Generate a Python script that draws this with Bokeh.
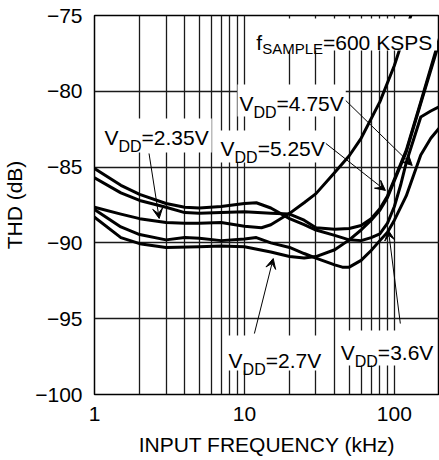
from bokeh.plotting import figure
from bokeh.models import (Range1d, FixedTicker, NumeralTickFormatter, Label,
                          Arrow, VeeHead, BoxAnnotation)
from bokeh.embed import file_html
from bokeh.resources import INLINE

# ---------------- data ----------------
x_ticks = [1, 10, 100]
x_tick_labels = ["1", "10", "100"]
y_ticks = [-100, -95, -90, -85, -80, -75]
x_grid = [2, 3, 4, 5, 6, 7, 8, 9, 10, 20, 30, 40, 50, 60, 70, 80, 90, 100, 200]
y_grid = [-95, -90, -85, -80]

# VDD = 2.35 V
freq_235 = [1, 1.5, 2, 3, 4, 5, 7, 10, 13, 15, 20, 25, 30, 40, 50, 60, 80, 100, 120, 130, 140]
thd_235 = [-87.65, -88.1, -88.4, -88.65, -88.7, -88.7, -88.65, -88.9, -89.0, -88.8, -88.05,
           -87.35, -86.75, -85.35, -84.25, -83.1, -80.7, -78.3, -75.9, -74.9, -73.8]

# VDD = 4.75 V
freq_475 = [1, 1.5, 2, 3, 4, 5, 7, 10, 12, 15, 20, 25, 30, 40, 50, 60, 70, 80, 90, 100,
            110, 120, 150, 175, 200]
thd_475 = [-85.1, -86.2, -86.8, -87.4, -87.65, -87.7, -87.6, -87.4, -87.35, -87.7, -88.4,
           -88.8, -89.15, -89.5, -89.8, -89.85, -89.65, -89.4, -88.7, -87.6,
           -86.2, -84.7, -81.7, -81.3, -81.0]

# VDD = 5.25 V
freq_525 = [1, 1.5, 2, 3, 4, 5, 7, 10, 15, 20, 25, 30, 40, 50, 60, 70, 80, 90, 100, 120,
            150, 200]
thd_525 = [-85.7, -86.7, -87.2, -87.65, -88.0, -88.05, -88.0, -87.95, -88.05, -88.1, -88.5,
           -89.0, -89.1, -89.05, -88.85, -88.4, -87.75, -86.9, -85.8, -83.9, -80.7, -76.5]

# VDD = 3.6 V
freq_36 = [1, 1.5, 2, 3, 4, 5, 7, 10, 12, 15, 20, 25, 30, 40, 45, 50, 60, 70, 80, 90, 100,
           120, 150, 175, 200]
thd_36 = [-87.8, -88.95, -89.45, -89.8, -89.65, -89.7, -89.85, -89.75, -89.65, -90.0, -90.3,
          -90.7, -91.0, -91.45, -91.6, -91.6, -91.15, -90.5, -89.85, -89.3, -88.5,
          -86.9, -84.2, -83.1, -82.4]

# VDD = 2.7 V
freq_27 = [1, 1.5, 2, 3, 5, 7, 10, 15, 20, 25, 30, 40, 50, 60, 70, 80, 90, 100, 120, 150, 200]
thd_27 = [-88.3, -89.65, -90.05, -90.3, -90.25, -90.2, -90.25, -90.6, -90.9, -91.0, -90.9,
          -90.45, -89.8, -89.15, -88.5, -87.85, -87.0, -85.9, -84.0, -80.8, -76.7]

curves = [(freq_235, thd_235), (freq_475, thd_475), (freq_525, thd_525),
          (freq_36, thd_36), (freq_27, thd_27)]

# annotations: (text parts, anchor x, anchor y, box (l, r, b, t), arrow (xs, ys, xe, ye))
annotations = [
    ([("f", 0), ("SAMPLE", 1), ("=600 KSPS", 0)], 12.0, -76.78,
     (11.47, 192.7, -77.31, -75.2), None),
    ([("V", 0), ("DD", 1), ("=2.35V", 0)], 1.165, -83.05,
     (1.13, 6.05, -84.04, -81.79), (2.31, -84.10, 2.70, -88.39)),
    ([("V", 0), ("DD", 1), ("=4.75V", 0)], 9.27, -80.80,
     (8.99, 47.4, -81.66, -79.55), (47.4, -80.61, 131.6, -84.89)),
    ([("V", 0), ("DD", 1), ("=5.25V", 0)], 6.93, -83.77,
     (6.63, 36.6, -84.70, -82.59), (34.9, -83.44, 87.2, -86.54)),
    ([("V", 0), ("DD", 1), ("=2.7V", 0)], 7.84, -97.76,
     (7.48, 32.3, -98.42, -96.11), (11.65, -95.98, 15.56, -91.03)),
    ([("V", 0), ("DD", 1), ("=3.6V", 0)], 43.9, -97.23,
     (41.9, 186.8, -98.09, -95.78), (109.6, -95.32, 91.3, -89.18)),
]

# ---------------- figure ----------------
FONT = "Liberation Sans"
MAIN = 21
p = figure(width=439, height=460, x_axis_type="log",
           x_range=Range1d(1, 200), y_range=Range1d(-100, -75),
           output_backend="svg", toolbar_location=None,
           min_border_left=93, min_border_right=0, min_border_top=15, min_border_bottom=66)
p.background_fill_color = "white"
p.border_fill_color = "white"
p.outline_line_color = "black"
p.outline_line_width = 1.5

for fr, th in curves:
    p.line(fr, th, line_color="black", line_width=3, line_join="round", line_cap="round")

p.xgrid.ticker = FixedTicker(ticks=x_grid)
p.ygrid.ticker = FixedTicker(ticks=y_grid)
for g in (p.xgrid, p.ygrid):
    g.grid_line_color = "#1a1a1a"
    g.grid_line_width = 1.3

p.xaxis.ticker = FixedTicker(ticks=x_ticks)
p.xaxis.formatter = NumeralTickFormatter(format="0")
p.xaxis.major_label_overrides = {t: s for t, s in zip(x_ticks, x_tick_labels)}
p.yaxis.ticker = FixedTicker(ticks=y_ticks)
p.xaxis.axis_label = "INPUT FREQUENCY (kHz)"
p.yaxis.axis_label = "THD (dB)"
for ax in (p.xaxis, p.yaxis):
    ax.axis_line_color = None
    ax.major_tick_line_color = None
    ax.minor_tick_line_color = None
    ax.major_tick_out = 0
    ax.major_tick_in = 0
    ax.major_label_text_font = FONT
    ax.major_label_text_font_size = f"{MAIN}px"
    ax.major_label_text_color = "black"
    ax.axis_label_text_font = FONT
    ax.axis_label_text_font_size = f"{MAIN}px"
    ax.axis_label_text_font_style = "normal"
    ax.axis_label_text_color = "black"
p.xaxis.major_label_standoff = 12
p.yaxis.major_label_standoff = 12
p.xaxis.axis_label_standoff = 9
p.yaxis.axis_label_standoff = 6

# Arial / Liberation Sans advance widths (per 1000 em)
W = {'V': 667, 'D': 722, '=': 584, '.': 278, ' ': 278, 'f': 278, 'S': 667, 'A': 667,
     'M': 833, 'P': 667, 'L': 556, 'E': 667, 'K': 667}
for d in "0123456789":
    W[d] = 556


def tw(s, size):
    return sum(W[c] for c in s) * size / 1000.0


for parts, ax_, ay_, box, arr in annotations:
    l, r, b, t = box
    p.add_layout(BoxAnnotation(left=l, right=r, bottom=b, top=t, fill_color="white",
                               fill_alpha=1.0, line_color=None))
for parts, ax_, ay_, box, arr in annotations:
    if arr is not None:
        xs, ys, xe, ye = arr
        p.add_layout(Arrow(x_start=xs, y_start=ys, x_end=xe, y_end=ye, line_width=1,
                           line_color="black",
                           end=VeeHead(size=10, fill_color="black", line_color="black",
                                       line_width=1)))
    off = 0.0
    for txt, kind in parts:
        size = MAIN if kind == 0 else (16 if txt == "DD" else 15)
        yoff = 0 if kind == 0 else (-9 if txt == "DD" else -6)
        p.add_layout(Label(x=ax_, y=ay_, x_offset=off, y_offset=yoff, text=txt,
                           text_font=FONT, text_font_size=f"{size}px",
                           text_color="black", text_baseline="alphabetic",
                           text_align="left"))
        off += tw(txt, size)

open("out.html", "w").write(file_html(p, INLINE))
